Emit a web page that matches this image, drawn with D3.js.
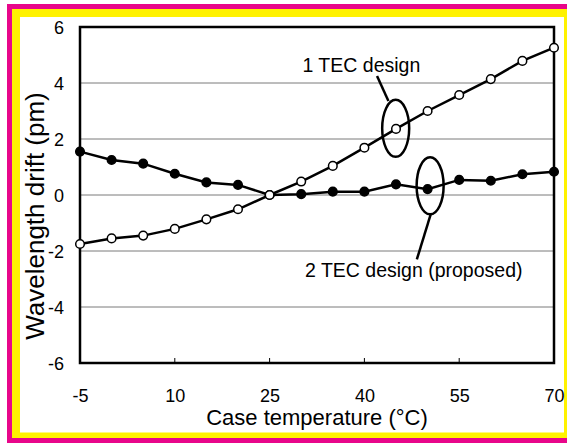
<!DOCTYPE html>
<html>
<head>
<meta charset="utf-8">
<script src="https://cdn.jsdelivr.net/npm/d3@7/dist/d3.min.js"></script>
<style>
  html, body { margin: 0; padding: 0; background: #ffffff; }
  svg { display: block; }
  text { font-family: "Liberation Sans", Arial, sans-serif; fill: #000; }
</style>
</head>
<body>
<svg id="chart" width="567" height="443"></svg>
<script>
// Case temperature (°C) for every measured point
const temps = [-5, 0, 5, 10, 15, 20, 25, 30, 35, 40, 45, 50, 55, 60, 65, 70];
// Wavelength drift (pm), single-TEC design
const oneTec = [-1.75, -1.55, -1.45, -1.21, -0.87, -0.51, 0, 0.48, 1.04, 1.69, 2.36, 3.0, 3.57, 4.14, 4.79, 5.26];
// Wavelength drift (pm), dual-TEC design
const twoTec = [1.55, 1.25, 1.12, 0.76, 0.45, 0.36, 0, 0.03, 0.12, 0.12, 0.38, 0.21, 0.54, 0.51, 0.74, 0.83];

const xTicks = [-5, 10, 25, 40, 55, 70];
const yTicks = [-6, -4, -2, 0, 2, 4, 6];
const xTitle = "Case temperature (°C)";
const yTitle = "Wavelength drift (pm)";
const label1 = "1 TEC design";
const label2 = "2 TEC design (proposed)";

const svg = d3.select("#chart");
const W = 567, H = 443;
const plot = { left: 80, right: 554, top: 27, bottom: 363 };

// decorative frame bands
svg.append("rect").attr("x", 7).attr("y", 4).attr("width", W).attr("height", H)
  .attr("fill", "#e8068a");
svg.append("rect").attr("x", 12).attr("y", 9).attr("width", W).attr("height", 438 - 9)
  .attr("fill", "#fff200");
svg.append("rect").attr("x", 20).attr("y", 17).attr("width", 564 - 20).attr("height", 432.5 - 17)
  .attr("fill", "#ffffff");

const x = d3.scaleLinear().domain([-5, 70]).range([plot.left, plot.right]);
const y = d3.scaleLinear().domain([-6, 6]).range([plot.bottom, plot.top]);

// plain hyphen-minus for negative tick values
const fmt = d => String(d);

// horizontal gridlines
svg.append("g")
  .selectAll("line")
  .data(yTicks.filter(v => v > -6 && v < 6))
  .join("line")
  .attr("x1", plot.left).attr("x2", plot.right)
  .attr("y1", d => y(d)).attr("y2", d => y(d))
  .attr("stroke", "#7a7a7a").attr("stroke-width", 1);

// inward ticks on the x axis
svg.append("g")
  .selectAll("line")
  .data(xTicks)
  .join("line")
  .attr("x1", d => x(d)).attr("x2", d => x(d))
  .attr("y1", plot.bottom).attr("y2", plot.bottom - 5)
  .attr("stroke", "#000").attr("stroke-width", 1);

// axis tick labels
const xAxis = d3.axisBottom(x).tickValues(xTicks).tickSize(0).tickPadding(0).tickFormat(fmt);
const gx = svg.append("g").attr("transform", `translate(0,${plot.bottom})`).call(xAxis);
gx.select(".domain").remove();
gx.selectAll("text")
  .attr("y", 39).attr("dy", null)
  .style("font-size", "18px").style("font-family", "Liberation Sans, Arial, sans-serif");

const yAxis = d3.axisLeft(y).tickValues(yTicks).tickSize(0).tickPadding(0).tickFormat(fmt);
const gy = svg.append("g").attr("transform", `translate(${plot.left},0)`).call(yAxis);
gy.select(".domain").remove();
gy.selectAll("text")
  .attr("x", -16).attr("dy", "0.36em")
  .style("font-size", "18px").style("font-family", "Liberation Sans, Arial, sans-serif");

// plot frame
svg.append("rect")
  .attr("x", plot.left).attr("y", plot.top)
  .attr("width", plot.right - plot.left).attr("height", plot.bottom - plot.top)
  .attr("fill", "none").attr("stroke", "#000").attr("stroke-width", 2.5);

// axis titles
svg.append("text")
  .attr("x", (plot.left + plot.right) / 2).attr("y", 425)
  .attr("text-anchor", "middle").style("font-size", "22px")
  .text(xTitle);
svg.append("text")
  .attr("transform", `translate(44,216) rotate(-90)`)
  .attr("text-anchor", "middle").style("font-size", "26px")
  .text(yTitle);

// series
const line = d3.line().x(d => x(d[0])).y(d => y(d[1]));
const series = [
  { values: twoTec, fill: "#000" },
  { values: oneTec, fill: "#fff" }
];
series.forEach(s => {
  const pts = temps.map((t, i) => [t, s.values[i]]);
  svg.append("path").datum(pts)
    .attr("d", line).attr("fill", "none")
    .attr("stroke", "#000").attr("stroke-width", 2.5);
});
series.forEach(s => {
  const pts = temps.map((t, i) => [t, s.values[i]]);
  svg.append("g").selectAll("circle").data(pts).join("circle")
    .attr("cx", d => x(d[0])).attr("cy", d => y(d[1]))
    .attr("r", 4.3).attr("fill", s.fill)
    .attr("stroke", "#000").attr("stroke-width", 1.5);
});

// callouts: ellipse around a point, leader line, label (anchors in data units)
const callouts = [
  { cx: 44.95, cy: 2.38, lx1: 43.8, ly1: 3.36, lx2: 42.0, ly2: 4.25, tx: 30.2, ty: 4.40, text: label1, size: 19.5 },
  { cx: 50.4, cy: 0.33, lx1: 50.5, ly1: -0.68, lx2: 48.3, ly2: -2.3, tx: 30.6, ty: -2.93, text: label2, size: 19.5 }
];
callouts.forEach(c => {
  svg.append("ellipse")
    .attr("cx", x(c.cx)).attr("cy", y(c.cy))
    .attr("rx", 13.5).attr("ry", 28.5)
    .attr("fill", "none").attr("stroke", "#000").attr("stroke-width", 2.5);
  svg.append("line")
    .attr("x1", x(c.lx1)).attr("y1", y(c.ly1))
    .attr("x2", x(c.lx2)).attr("y2", y(c.ly2))
    .attr("stroke", "#000").attr("stroke-width", 2.5);
  svg.append("text")
    .attr("x", x(c.tx)).attr("y", y(c.ty))
    .style("font-size", c.size + "px")
    .text(c.text);
});
</script>
</body>
</html>
